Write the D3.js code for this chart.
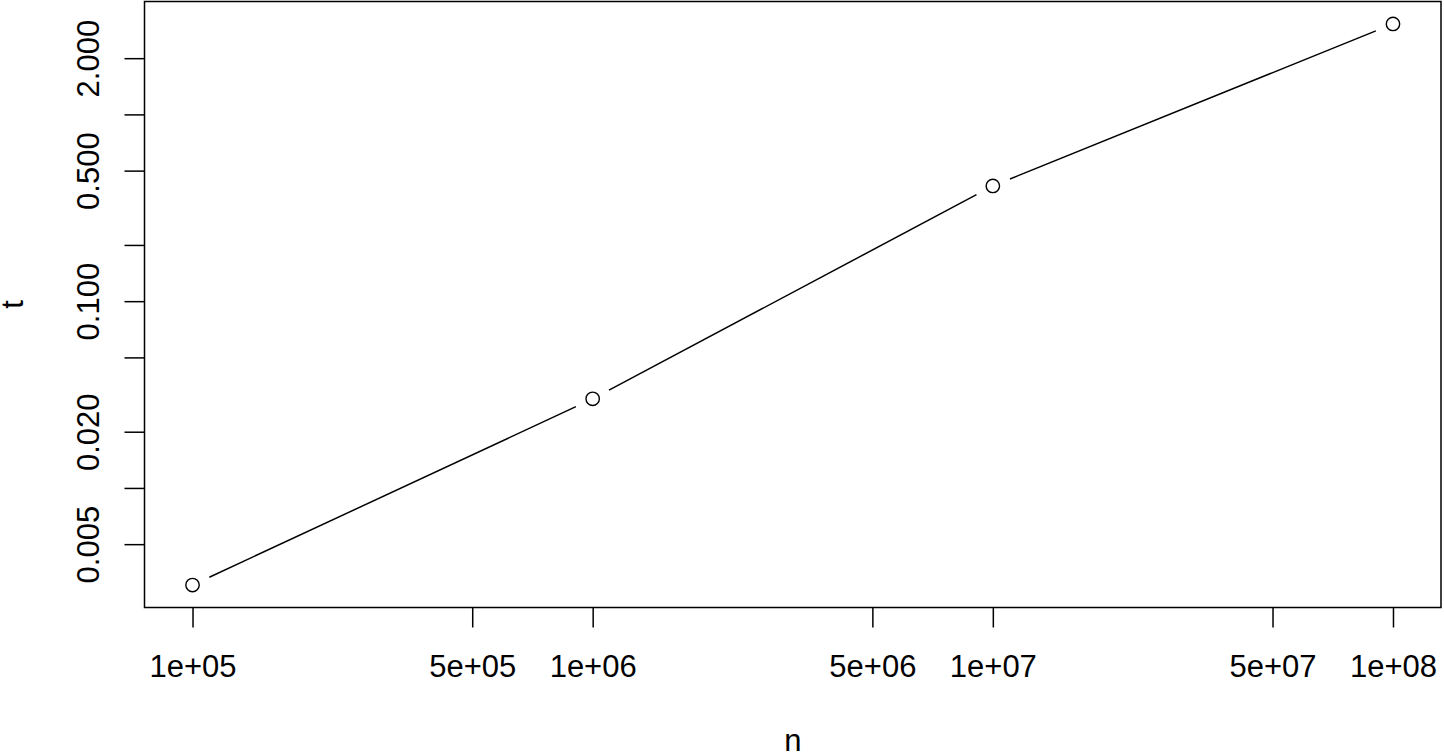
<!DOCTYPE html>
<html>
<head>
<meta charset="utf-8">
<script src="https://cdn.jsdelivr.net/npm/d3@7"></script>
<style>
  html, body { margin: 0; padding: 0; background: #fff; }
  svg { display: block; }
  text { font-family: "Liberation Sans", Arial, Helvetica, sans-serif; fill: #000; }
</style>
</head>
<body>
<svg id="chart" width="1444" height="754"></svg>
<script>
// ---- data ----
const nValues = [1e5, 1e6, 1e7, 1e8];
const tValues = [0.00302, 0.0300, 0.414, 3.05];
const xTickValues = [1e5, 5e5, 1e6, 5e6, 1e7, 5e7, 1e8];
const xTickLabels = ["1e+05", "5e+05", "1e+06", "5e+06", "1e+07", "5e+07", "1e+08"];
const yTickValues = [0.005, 0.01, 0.02, 0.05, 0.1, 0.2, 0.5, 1, 2];
const yTickLabels = ["0.005", "", "0.020", "", "0.100", "", "0.500", "", "2.000"];
const xTitle = "n";
const yTitle = "t";

// ---- layout ----
const W = 1444, H = 754;
const box = { left: 144.5, right: 1441, top: 1.5, bottom: 607.5 };
const fontPx = 31;
const svg = d3.select("#chart");

function logExtent(vals) {
  const lo = Math.log10(d3.min(vals)), hi = Math.log10(d3.max(vals));
  const pad = (hi - lo) * 0.04;
  return [Math.pow(10, lo - pad), Math.pow(10, hi + pad)];
}

const x = d3.scaleLog().domain(logExtent(nValues)).range([box.left, box.right]);
const y = d3.scaleLog().domain(logExtent(tValues)).range([box.bottom, box.top]);

// plot box
svg.append("rect")
  .attr("x", box.left).attr("y", box.top)
  .attr("width", box.right - box.left).attr("height", box.bottom - box.top)
  .attr("fill", "none").attr("stroke", "#000").attr("stroke-width", 1.5);

// x axis
const xAxis = d3.axisBottom(x)
  .tickValues(xTickValues)
  .tickFormat((d, i) => xTickLabels[i])
  .tickSize(20).tickSizeOuter(0);
const gx = svg.append("g").attr("transform", `translate(0,${box.bottom})`).call(xAxis);
gx.select(".domain").remove();
gx.selectAll(".tick line").attr("stroke", "#000").attr("stroke-width", 1.5);
gx.selectAll(".tick text")
  .attr("y", 69.5).attr("dy", null)
  .style("font-size", fontPx + "px").style("font-family", '"Liberation Sans", Arial, sans-serif')
  .attr("fill", "#000");

// y axis
const yAxis = d3.axisLeft(y)
  .tickValues(yTickValues)
  .tickFormat((d, i) => yTickLabels[i])
  .tickSize(20).tickSizeOuter(0);
const gy = svg.append("g").attr("transform", `translate(${box.left},0)`).call(yAxis);
gy.select(".domain").remove();
gy.selectAll(".tick line").attr("stroke", "#000").attr("stroke-width", 1.5);
gy.selectAll(".tick text")
  .attr("x", null).attr("dy", null)
  .attr("text-anchor", "middle")
  .attr("transform", "translate(-45.5,0) rotate(-90)")
  .style("font-size", fontPx + "px").style("font-family", '"Liberation Sans", Arial, sans-serif')
  .attr("fill", "#000");

// axis titles
svg.append("text")
  .attr("x", (box.left + box.right) / 2).attr("y", 751)
  .attr("text-anchor", "middle")
  .style("font-size", fontPx + "px")
  .text(xTitle);
svg.append("text")
  .attr("transform", `translate(23,${(box.top + box.bottom) / 2}) rotate(-90)`)
  .attr("text-anchor", "middle")
  .style("font-size", fontPx + "px")
  .text(yTitle);

// data: line with gaps (type = "b") and open circles
const pts = nValues.map((n, i) => [x(n), y(tValues[i])]);
const gap = 18.5;
const segs = [];
for (let i = 0; i < pts.length - 1; i++) {
  const [x0, y0] = pts[i], [x1, y1] = pts[i + 1];
  const dx = x1 - x0, dy = y1 - y0, L = Math.hypot(dx, dy);
  if (L > 2 * gap) {
    segs.push([[x0 + dx / L * gap, y0 + dy / L * gap], [x1 - dx / L * gap, y1 - dy / L * gap]]);
  }
}
const line = d3.line();
svg.append("g").selectAll("path").data(segs).join("path")
  .attr("d", d => line(d))
  .attr("fill", "none").attr("stroke", "#000").attr("stroke-width", 1.5);

svg.append("g").selectAll("circle").data(nValues).join("circle")
  .attr("cx", d => x(d))
  .attr("cy", (d, i) => y(tValues[i]))
  .attr("r", 6.7)
  .attr("fill", "none").attr("stroke", "#000").attr("stroke-width", 1.4);
</script>
</body>
</html>
